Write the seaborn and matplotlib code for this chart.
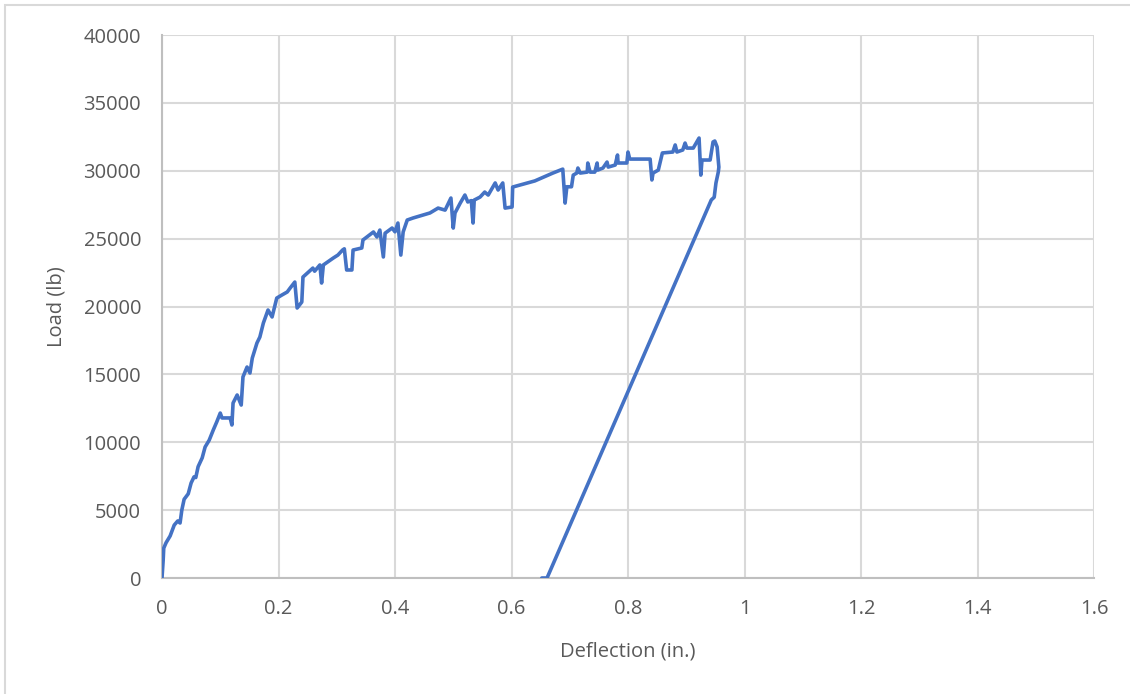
import matplotlib
matplotlib.use("Agg")
import matplotlib.pyplot as plt
from matplotlib.patches import Rectangle
from matplotlib.ticker import MultipleLocator
import pandas as pd
import seaborn as sns

# Load-deflection record: loading branch followed by the unloading branch
deflection_in = [
    0.000, 0.002, 0.003, 0.007, 0.014, 0.021, 0.027, 0.031, 0.034, 0.038,
    0.045, 0.050, 0.055, 0.058, 0.062, 0.069, 0.074, 0.081, 0.088, 0.094,
    0.100, 0.103, 0.117, 0.120, 0.122, 0.129, 0.136, 0.139, 0.146, 0.151,
    0.155, 0.163, 0.168, 0.174, 0.182, 0.189, 0.197, 0.206, 0.215, 0.220,
    0.228, 0.232, 0.240, 0.242, 0.259, 0.262, 0.271, 0.274, 0.277, 0.294,
    0.302, 0.310, 0.313, 0.317, 0.326, 0.328, 0.343, 0.345, 0.363, 0.369,
    0.374, 0.380, 0.383, 0.395, 0.400, 0.405, 0.410, 0.414, 0.421, 0.431,
    0.460, 0.474, 0.486, 0.496, 0.500, 0.503, 0.512, 0.520, 0.525, 0.531,
    0.534, 0.536, 0.546, 0.554, 0.560, 0.572, 0.577, 0.585, 0.589, 0.601,
    0.602, 0.640, 0.671, 0.688, 0.692, 0.695, 0.703, 0.706, 0.712, 0.714,
    0.718, 0.730, 0.731, 0.735, 0.743, 0.747, 0.748, 0.757, 0.764, 0.766,
    0.778, 0.782, 0.783, 0.798, 0.800, 0.803, 0.838, 0.841, 0.843, 0.852,
    0.859, 0.877, 0.881, 0.884, 0.894, 0.898, 0.901, 0.912, 0.922, 0.925,
    0.927, 0.941, 0.946, 0.949, 0.953, 0.956, 0.955, 0.951, 0.948, 0.943,
    0.661, 0.652,
]
load_lb = [
    0, 1300, 2200, 2600, 3100, 3900, 4200, 4050, 5000, 5800,
    6200, 7000, 7450, 7400, 8200, 8850, 9650, 10150, 10900, 11500,
    12150, 11790, 11790, 11270, 12890, 13480, 12740, 14810, 15540, 15100,
    16200, 17310, 17750, 18780, 19740, 19230, 20620, 20850, 21070, 21360,
    21800, 19890, 20330, 22170, 22830, 22600, 23060, 21730, 23060, 23570,
    23790, 24160, 24250, 22690, 22690, 24160, 24310, 24900, 25490, 25120,
    25630, 23650, 25400, 25780, 25500, 26150, 23790, 25490, 26370, 26520,
    26890, 27250, 27100, 27990, 25780, 26890, 27620, 28210, 27700, 27800,
    26150, 27840, 28060, 28430, 28210, 29100, 28580, 29100, 27250, 27330,
    28800, 29250, 29830, 30120, 27620, 28820, 28820, 29680, 29830, 30200,
    29830, 29900, 30570, 29900, 29900, 30570, 30050, 30200, 30640, 30270,
    30420, 31160, 30570, 30570, 31380, 30860, 30860, 29320, 29830, 30050,
    31310, 31380, 31900, 31380, 31530, 32040, 31670, 31670, 32410, 29680,
    30790, 30790, 32120, 32190, 31750, 30270, 29900, 29100, 28050, 27850,
    0, 0,
]

x_ticks = [0, 0.2, 0.4, 0.6, 0.8, 1.0, 1.2, 1.4, 1.6]
x_tick_labels = ["0", "0.2", "0.4", "0.6", "0.8", "1", "1.2", "1.4", "1.6"]
y_ticks = [0, 5000, 10000, 15000, 20000, 25000, 30000, 35000, 40000]

sns.set_style("white")
plt.rcParams["font.family"] = ["Open Sans", "DejaVu Sans"]

df = pd.DataFrame({"Deflection": deflection_in, "Load": load_lb})

fig = plt.figure(figsize=(11.30, 6.94), dpi=100)
ax = fig.add_axes([162 / 1130, 116 / 694, 932 / 1130, 543 / 694])

grid_c = "#D9D9D9"
axis_c = "#BFBFBF"
text_c = "#595959"

sns.lineplot(data=df, x="Deflection", y="Load", sort=False, estimator=None,
             color="#4472C4", linewidth=2.6, ax=ax, zorder=3)

ax.set_xlim(0, 1.6)
ax.set_ylim(0, 40000)
ax.set_xticks(x_ticks)
ax.set_xticklabels(x_tick_labels)
ax.set_yticks(y_ticks)
ax.set_yticklabels([str(v) for v in y_ticks])
ax.xaxis.set_minor_locator(MultipleLocator(0.05))
ax.yaxis.set_minor_locator(MultipleLocator(1000))

ax.grid(True, which="major", color=grid_c, linewidth=1.5, zorder=0)
ax.set_axisbelow(True)

for side in ("top", "right"):
    ax.spines[side].set_visible(False)
for side in ("left", "bottom"):
    ax.spines[side].set_color(axis_c)
    ax.spines[side].set_linewidth(1.5)

ax.tick_params(axis="both", which="both", direction="out", color=axis_c,
               width=1.3, labelcolor=text_c, labelsize=14.5)
ax.tick_params(axis="both", which="major", length=6, pad=9)
ax.tick_params(axis="both", which="minor", length=6)

ax.set_xlabel("Deflection (in.)", color=text_c, fontsize=14.5, labelpad=16)
ax.set_ylabel("Load (lb)", color=text_c, fontsize=14.5, labelpad=12)

# Chart frame
fig.patches.append(Rectangle((5 / 1130, -0.1), 1.2, (689 / 694) + 0.1,
                             transform=fig.transFigure, fill=False,
                             edgecolor="#D9D9D9", linewidth=1.5))

fig.savefig("out.png", dpi=100, facecolor="white")
